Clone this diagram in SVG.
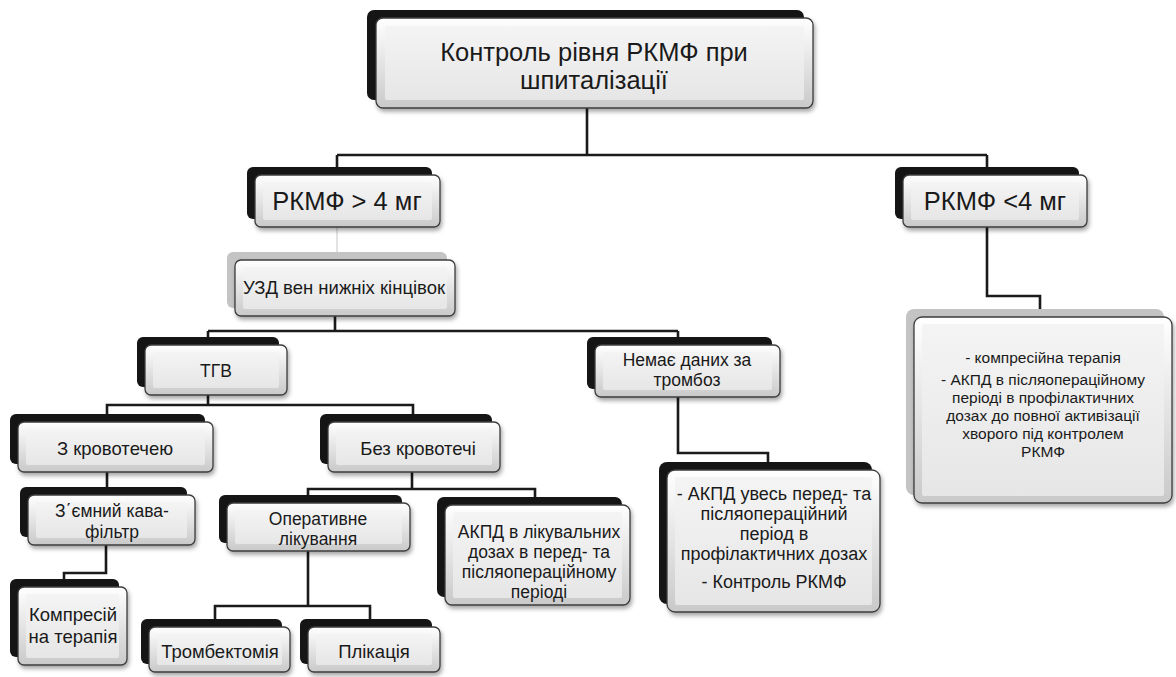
<svg xmlns="http://www.w3.org/2000/svg" width="1176" height="677" viewBox="0 0 1176 677">
<defs>
<linearGradient id="gOut" x1="0" y1="0" x2="0" y2="1">
<stop offset="0" stop-color="#ffffff"/>
<stop offset="1" stop-color="#c9c9c9"/>
</linearGradient>
<linearGradient id="gIn" x1="0" y1="0" x2="0" y2="1">
<stop offset="0" stop-color="#f4f4f4"/>
<stop offset="1" stop-color="#e6e6e6"/>
</linearGradient>
<filter id="ds" x="-10%" y="-10%" width="130%" height="140%">
<feDropShadow dx="1.5" dy="3" stdDeviation="2" flood-color="#000" flood-opacity="0.35"/>
</filter>
</defs>
<style>
.sh{fill:#151515;}
.shg{fill:#c4c4c4;}
.bx{fill:url(#gOut);stroke:#3c3c3c;stroke-width:1.3;filter:url(#ds);}
.in{fill:url(#gIn);}
.t{font-family:"Liberation Sans",Arial,sans-serif;fill:#1a1a1a;text-anchor:middle;}
.m{font-size:18.5px;}
.c{fill:none;stroke:#1a1a1a;stroke-width:2.6;}
.cf{fill:none;stroke:#e2e2e2;stroke-width:2;}
</style>
<rect width="1176" height="677" fill="#ffffff"/>

<g id="connectors">
<path class="c" d="M587,108 V155 M337,155 H987 M337,155 V168 M987,155 V168"/>
<path class="cf" d="M337,227 V253"/>
<path class="c" d="M987,227 V296 H1040 V310"/>
<path class="c" d="M335,316 V331 M208,331 H678 M208,331 V338 M678,331 V338"/>
<path class="c" d="M208,395 V405 H107 V415 M208,405 H413 V415"/>
<path class="c" d="M107,472 V488"/>
<path class="c" d="M106,545 V573 H64 V580"/>
<path class="c" d="M412,472 V489 H308 V496 M308,489 H535 V498"/>
<path class="c" d="M308,550 V606 H215 V620 M308,606 H370 V620"/>
<path class="c" d="M678,397 V453 H768 V464"/>
</g>

<g id="n-top">
<rect class="sh" x="367" y="10" width="437" height="90" rx="7"/>
<rect class="bx" x="376" y="18" width="437" height="90" rx="7"/>
<rect class="in" x="385" y="26" width="419" height="74" rx="2"/>
<text class="t" x="594" y="61" font-size="25.5">Контроль рівня РКМФ при</text>
<text class="t" x="594" y="89" font-size="25.5">шпиталізації</text>
</g>

<g id="n-rkmf-gt4">
<rect class="sh" x="247" y="167" width="185" height="52" rx="6"/>
<rect class="bx" x="255" y="175" width="185" height="52" rx="6"/>
<rect class="in" x="263" y="182" width="169" height="38" rx="2"/>
<text class="t" x="347" y="210" font-size="25.5">РКМФ &gt; 4 мг</text>
</g>

<g id="n-rkmf-lt4">
<rect class="sh" x="895" y="167" width="184" height="52" rx="6"/>
<rect class="bx" x="903" y="175" width="184" height="52" rx="6"/>
<rect class="in" x="911" y="182" width="168" height="38" rx="2"/>
<text class="t" x="995" y="210" font-size="25.5">РКМФ &lt;4 мг</text>
</g>

<g id="n-uzd">
<rect class="shg" x="227" y="252" width="220" height="56" rx="6"/>
<rect class="bx" x="235" y="260" width="220" height="56" rx="6"/>
<rect class="in" x="243" y="267" width="204" height="42" rx="2"/>
<text class="t m" x="344" y="294">УЗД вен нижніх кінцівок</text>
</g>

<g id="n-tgv">
<rect class="sh" x="137" y="337" width="142" height="50" rx="6"/>
<rect class="bx" x="145" y="345" width="142" height="50" rx="6"/>
<rect class="in" x="153" y="352" width="126" height="36" rx="2"/>
<text class="t" x="216" y="377" font-size="17.5">ТГВ</text>
</g>

<g id="n-nodata">
<rect class="sh" x="587" y="337" width="185" height="52" rx="6"/>
<rect class="bx" x="595" y="345" width="185" height="52" rx="6"/>
<rect class="in" x="603" y="352" width="169" height="38" rx="2"/>
<text class="t" x="687" y="366" font-size="17.5">Немає даних за</text>
<text class="t" x="687" y="386" font-size="17.5">тромбоз</text>
</g>

<g id="n-bleed">
<rect class="sh" x="10" y="414" width="195" height="50" rx="6"/>
<rect class="bx" x="18" y="422" width="195" height="50" rx="6"/>
<rect class="in" x="26" y="429" width="179" height="36" rx="2"/>
<text class="t m" x="115" y="455">З кровотечею</text>
</g>

<g id="n-nobleed">
<rect class="sh" x="320" y="414" width="172" height="50" rx="6"/>
<rect class="bx" x="328" y="422" width="172" height="50" rx="6"/>
<rect class="in" x="336" y="429" width="156" height="36" rx="2"/>
<text class="t m" x="418" y="455">Без кровотечі</text>
</g>

<g id="n-filter">
<rect class="sh" x="20" y="487" width="167" height="50" rx="6"/>
<rect class="bx" x="28" y="495" width="167" height="50" rx="6"/>
<rect class="in" x="36" y="502" width="151" height="36" rx="2"/>
<text class="t" x="112" y="517" font-size="17.5">З΄ємний кава-</text>
<text class="t" x="112" y="538" font-size="17.5">фільтр</text>
</g>

<g id="n-compress">
<rect class="sh" x="10" y="579" width="109" height="78" rx="6"/>
<rect class="bx" x="18" y="587" width="109" height="78" rx="6"/>
<rect class="in" x="26" y="594" width="93" height="64" rx="2"/>
<text class="t m" x="73" y="621">Компресій</text>
<text class="t m" x="73" y="643">на терапія</text>
</g>

<g id="n-operative">
<rect class="sh" x="219" y="495" width="183" height="48" rx="6"/>
<rect class="bx" x="227" y="503" width="183" height="48" rx="6"/>
<rect class="in" x="235" y="510" width="167" height="34" rx="2"/>
<text class="t" x="318" y="525" font-size="17.5">Оперативне</text>
<text class="t" x="318" y="545" font-size="17.5">лікування</text>
</g>

<g id="n-akpd-treat">
<rect class="sh" x="437" y="497" width="185" height="100" rx="7"/>
<rect class="bx" x="445" y="505" width="185" height="100" rx="7"/>
<rect class="in" x="453" y="512" width="169" height="86" rx="2"/>
<text class="t" x="539" y="538" font-size="17.5">АКПД в лікувальних</text>
<text class="t" x="539" y="558" font-size="17.5">дозах в перед- та</text>
<text class="t" x="539" y="578" font-size="17.5">післяопераційному</text>
<text class="t" x="539" y="598" font-size="17.5">періоді</text>
</g>

<g id="n-thrombectomy">
<rect class="sh" x="141" y="619" width="141" height="45" rx="6"/>
<rect class="bx" x="149" y="627" width="141" height="45" rx="6"/>
<rect class="in" x="157" y="634" width="125" height="31" rx="2"/>
<text class="t m" x="220" y="658">Тромбектомія</text>
</g>

<g id="n-plication">
<rect class="sh" x="300" y="619" width="132" height="45" rx="6"/>
<rect class="bx" x="308" y="627" width="132" height="45" rx="6"/>
<rect class="in" x="316" y="634" width="116" height="31" rx="2"/>
<text class="t m" x="374" y="658">Плікація</text>
</g>

<g id="n-akpd-prophylaxis">
<rect class="sh" x="659" y="462" width="213" height="142" rx="8"/>
<rect class="bx" x="667" y="470" width="213" height="142" rx="8"/>
<rect class="in" x="675" y="477" width="197" height="128" rx="2"/>
<text class="t" x="774" y="500" font-size="18">- АКПД увесь перед- та</text>
<text class="t" x="774" y="520" font-size="18">післяопераційний</text>
<text class="t" x="774" y="540" font-size="18">період в</text>
<text class="t" x="774" y="560" font-size="18">профілактичних дозах</text>
<text class="t" x="774" y="588" font-size="18">- Контроль РКМФ</text>
</g>

<g id="n-right">
<rect class="shg" x="906" y="309" width="258" height="186" rx="8"/>
<rect class="bx" x="914" y="317" width="258" height="186" rx="8"/>
<rect class="in" x="922" y="324" width="242" height="172" rx="2"/>
<text class="t" x="1043" y="363" font-size="15.5">- компресійна терапія</text>
<text class="t" x="1043" y="385" font-size="15.5">- АКПД в післяопераційному</text>
<text class="t" x="1043" y="403" font-size="15.5">періоді в профілактичних</text>
<text class="t" x="1043" y="421" font-size="15.5">дозах до повної активізації</text>
<text class="t" x="1043" y="439" font-size="15.5">хворого під контролем</text>
<text class="t" x="1043" y="457" font-size="15.5">РКМФ</text>
</g>
</svg>
